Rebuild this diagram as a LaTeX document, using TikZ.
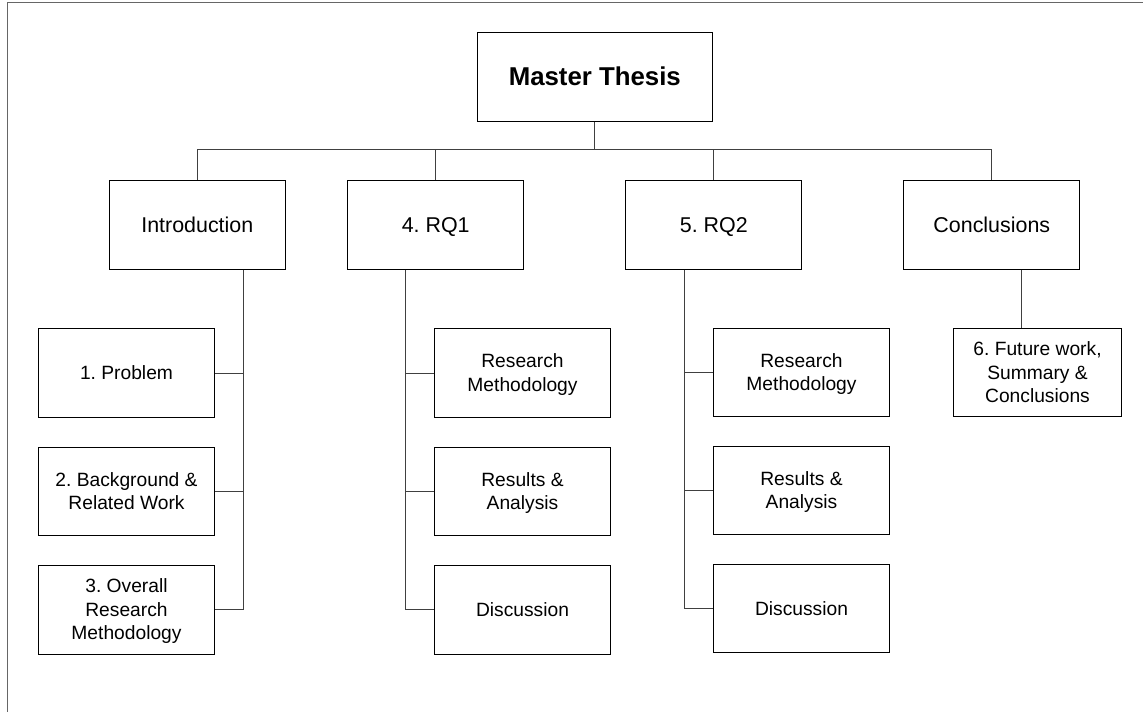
\documentclass[tikz,border=0pt]{standalone}
\usepackage{fontspec}
\setmainfont{Liberation Sans}
\frenchspacing
\newcommand{\lnst}{\rule[-0.22\baselineskip]{0pt}{\baselineskip}}
\begin{document}
\begin{tikzpicture}[x=1bp,y=-1bp,
  box/.style={draw=black, line width=0.8bp, minimum width=176bp, minimum height=89bp, inner sep=0pt, align=center},
  topbox/.style={box, font=\fontsize{21.5}{26}\selectfont},
  subbox/.style={box, minimum height=88.5bp, font=\fontsize{19.3}{23.6}\selectfont},
  link/.style={draw=black!75, line width=0.9bp},
  frame/.style={draw=black!60, line width=1bp}]
\useasboundingbox (0,0) rectangle (1143,712);
\draw[frame] (7.3,712) -- (7.3,3) -- (1143,3);

% top
\node[box, minimum width=235bp, font=\bfseries\fontsize{25.9}{30}\selectfont] (master) at (594.8,76.8) {\lnst Master Thesis};

% level 1
\node[topbox] (intro) at (197.3,224.8) {\lnst Introduction};
\node[topbox] (rq1) at (435.7,224.8) {\lnst 4. RQ1};
\node[topbox] (rq2) at (713.8,224.8) {\lnst 5. RQ2};
\node[topbox] (concl) at (991.8,224.8) {\lnst Conclusions};

% intro children
\node[subbox] (prob) at (126.5,373) {\lnst 1. Problem};
\node[subbox] (bg) at (126.5,491.5) {\lnst 2. Background \&\\\lnst Related Work};
\node[subbox] (over) at (126.5,609.8) {\lnst 3. Overall\\\lnst Research\\\lnst Methodology};

% rq1 children
\node[subbox] (r1m) at (522.5,373) {\lnst Research\\\lnst Methodology};
\node[subbox] (r1r) at (522.5,491.5) {\lnst Results \&\\\lnst Analysis};
\node[subbox] (r1d) at (522.5,609.8) {\lnst Discussion};

% rq2 children
\node[subbox] (r2m) at (801.5,372.5) {\lnst Research\\\lnst Methodology};
\node[subbox] (r2r) at (801.5,490.5) {\lnst Results \&\\\lnst Analysis};
\node[subbox] (r2d) at (801.5,608.5) {\lnst Discussion};

% conclusions child
\node[subbox, minimum width=168bp] (fut) at (1037.5,372.5) {\lnst 6. Future work,\\\lnst Summary \&\\\lnst Conclusions};

% bus
\coordinate (bus) at (0,149.7);
\draw[link] (master.south) -- (master.south |- bus);
\draw[link] (intro.north) -- (intro.north |- bus) -- (concl.north |- bus) -- (concl.north);
\draw[link] (rq1.north) -- (rq1.north |- bus);
\draw[link] (rq2.north) -- (rq2.north |- bus);

% intro stem
\coordinate (is) at ([xshift=46.4bp]intro.south);
\draw[link] (is) |- (over.east);
\draw[link] (prob.east) -- (prob.east -| is);
\draw[link] (bg.east) -- (bg.east -| is);

% rq1 stem
\coordinate (r1s) at ([xshift=-30.7bp]rq1.south);
\draw[link] (r1s) |- (r1d.west);
\draw[link] (r1m.west) -- (r1m.west -| r1s);
\draw[link] (r1r.west) -- (r1r.west -| r1s);

% rq2 stem
\coordinate (r2s) at ([xshift=-29.3bp]rq2.south);
\draw[link] (r2s) |- (r2d.west);
\draw[link] (r2m.west) -- (r2m.west -| r2s);
\draw[link] (r2r.west) -- (r2r.west -| r2s);

% conclusions stem
\coordinate (cs) at ([xshift=29.5bp]concl.south);
\draw[link] (cs) -- (cs |- fut.north);
\end{tikzpicture}
\end{document}
